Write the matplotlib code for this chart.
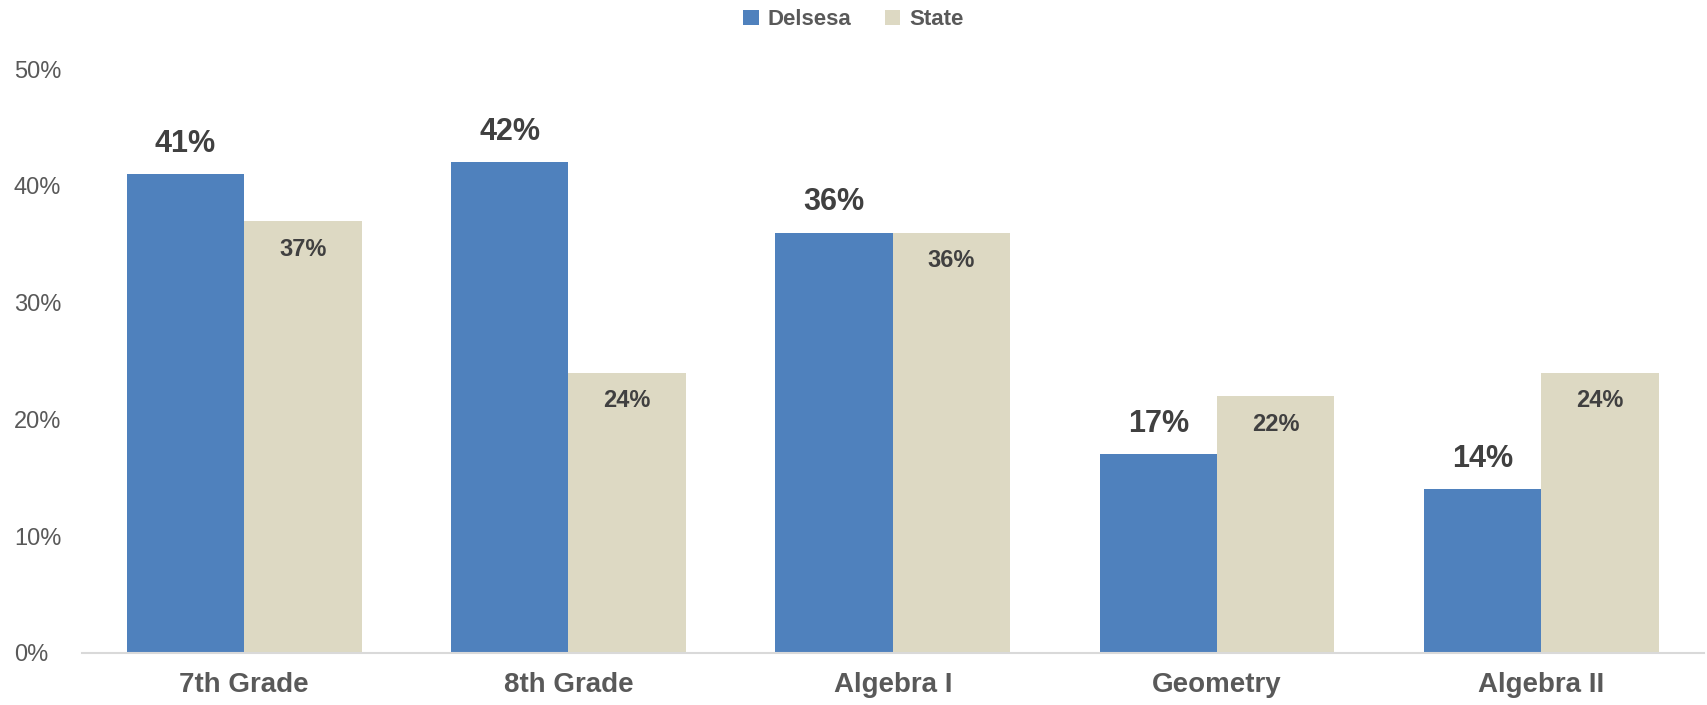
import matplotlib.pyplot as plt
import numpy as np

categories = ['7th Grade', '8th Grade', 'Algebra I', 'Geometry', 'Algebra II']
delsesa = [0.41, 0.42, 0.36, 0.17, 0.14]
state = [0.37, 0.24, 0.36, 0.22, 0.24]

plt.rcParams['font.family'] = ['Liberation Sans', 'DejaVu Sans']

fig = plt.figure(figsize=(17.07, 7.05), dpi=100)
ax = fig.add_axes([0.048, 0.074, 0.950, 0.828])

x = np.arange(len(categories))
w = 0.362
blue = '#4F81BD'
tan = '#DDD9C3'

b1 = ax.bar(x - w / 2, delsesa, width=w, color=blue, label='Delsesa')
b2 = ax.bar(x + w / 2, state, width=w, color=tan, label='State')

# labels: Delsesa above bars, State inside near the top
for bar, v in zip(b1, delsesa):
    ax.annotate(f'{round(v * 100)}%', (bar.get_x() + bar.get_width() / 2, v),
                xytext=(0, 11), textcoords='offset points', ha='center', va='bottom',
                fontsize=22, fontweight='bold', color='#404040')
for bar, v in zip(b2, state):
    ax.annotate(f'{round(v * 100)}%', (bar.get_x() + bar.get_width() / 2, v),
                xytext=(0, -12), textcoords='offset points', ha='center', va='top',
                fontsize=17, fontweight='bold', color='#404040')

ax.set_xlim(-0.5, len(categories) - 0.5)
ax.set_ylim(0, 0.5)
ax.set_yticks([0, 0.1, 0.2, 0.3, 0.4, 0.5])
ax.set_yticklabels(['0%', '10%', '20%', '30%', '40%', '50%'], fontsize=17, color='#595959')
ax.set_xticks(x)
ax.set_xticklabels(categories, fontsize=20, color='#595959', fontweight='bold')
ax.tick_params(axis='both', length=0)
ax.tick_params(axis='x', pad=14)
ax.tick_params(axis='y', pad=49)
for lbl in ax.get_yticklabels():
    lbl.set_horizontalalignment('left')

for s in ['top', 'right', 'left']:
    ax.spines[s].set_visible(False)
ax.spines['bottom'].set_color('#D9D9D9')
ax.spines['bottom'].set_linewidth(1.5)

fig.legend(loc='upper center', bbox_to_anchor=(0.5, 1.015), ncol=2, frameon=False,
           handlelength=0.7, handleheight=0.7, columnspacing=1.5,
           handletextpad=0.4, labelcolor='#595959', prop={'weight': 'bold', 'size': 16})

fig.savefig('out.png', dpi=100)
